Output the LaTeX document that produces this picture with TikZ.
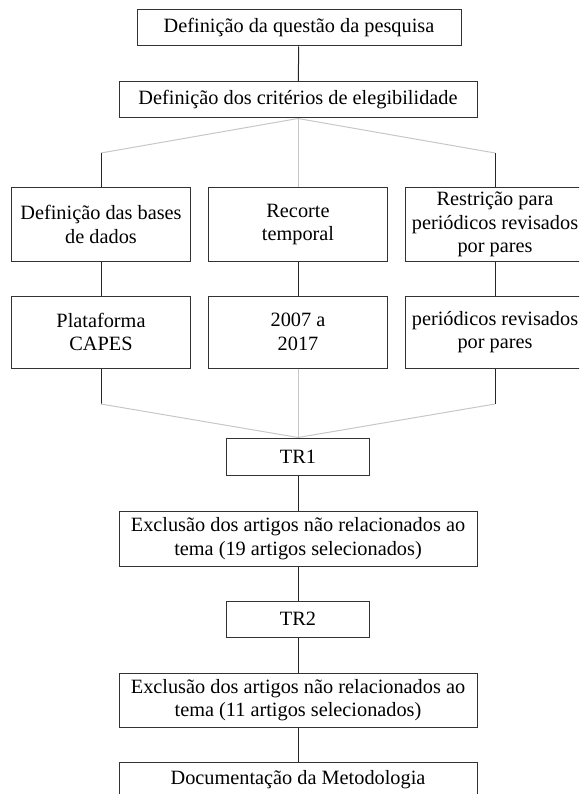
\documentclass[tikz,border=0pt]{standalone}
\usepackage{fontspec}
\setmainfont{Liberation Serif}

\begin{document}
\begin{tikzpicture}
[
	x=1pt,
	y=-1pt,
	box/.style={draw=black!80,line width=1pt,inner sep=2pt,align=center,
	  font=\fontsize{20.3}{23.5}\selectfont},
	link/.style={line width=1pt,black!85},
	graylink/.style={line width=1pt,black!22}
]

	\clip (0,0) rectangle (579,794);

	% top
	\node[box,minimum width=324,minimum height=36] (questao) at (299,28)
	  {Definição da questão da pesquisa};
	\node[box,minimum width=358,minimum height=36] (criterios) at (298,100)
	  {Definição dos critérios de elegibilidade};

	% three columns
	\node[box,minimum width=179,minimum height=73] (bases) at (101,224.5)
	  {Definição das bases\\de dados};
	\node[box,minimum width=179,minimum height=73] (recorte) at (298,224.5)
	  {Recorte\\temporal};
	\node[box,minimum width=179,minimum height=73] (restricao) at (495,224.5)
	  {Restrição para\\periódicos revisados\\por pares};

	\node[box,minimum width=179,minimum height=72] (capes) at (101,332)
	  {Plataforma\\CAPES};
	\node[box,minimum width=179,minimum height=72] (anos) at (298,332)
	  {2007 a\\2017};
	\node[box,minimum width=179,minimum height=72] (pares) at (495,332)
	  {periódicos revisados\\por pares};

	% bottom chain
	\node[box,minimum width=143,minimum height=37] (tr1) at (298,456.5) {TR1};
	\node[box,minimum width=358,minimum height=55] (exclusao1) at (298,538.5)
	  {Exclusão dos artigos não relacionados ao\\tema (19 artigos selecionados)};
	\node[box,minimum width=143,minimum height=36] (tr2) at (298,619) {TR2};
	\node[box,minimum width=358,minimum height=54] (exclusao2) at (298,700)
	  {Exclusão dos artigos não relacionados ao\\tema (11 artigos selecionados)};
	\node[box,minimum width=358,minimum height=36] (doc) at (298,780)
	  {Documentação da Metodologia};

	% branches
	\coordinate (splitl) at (101,153);
	\coordinate (splitr) at (495,153);
	\coordinate (joinl) at (101,404);
	\coordinate (joinr) at (495,404);

	\draw[link] (questao) -- (criterios);
	\draw[graylink] (criterios.south) -- (splitl);
	\draw[graylink] (criterios.south) -- (splitr);
	\draw[graylink] (criterios) -- (recorte);
	\draw[link] (splitl) -- (bases);
	\draw[link] (splitr) -- (restricao);

	\foreach \a/\b in {bases/capes,recorte/anos,restricao/pares} {
		\draw[link] (\a) -- (\b);
	}

	\draw[link] (capes) -- (joinl);
	\draw[link] (pares) -- (joinr);
	\draw[graylink] (joinl) -- (tr1.north);
	\draw[graylink] (joinr) -- (tr1.north);
	\draw[graylink] (anos) -- (tr1);

	\foreach \a/\b in {tr1/exclusao1,exclusao1/tr2,tr2/exclusao2,exclusao2/doc} {
		\draw[link] (\a) -- (\b);
	}

\end{tikzpicture}
\end{document}
